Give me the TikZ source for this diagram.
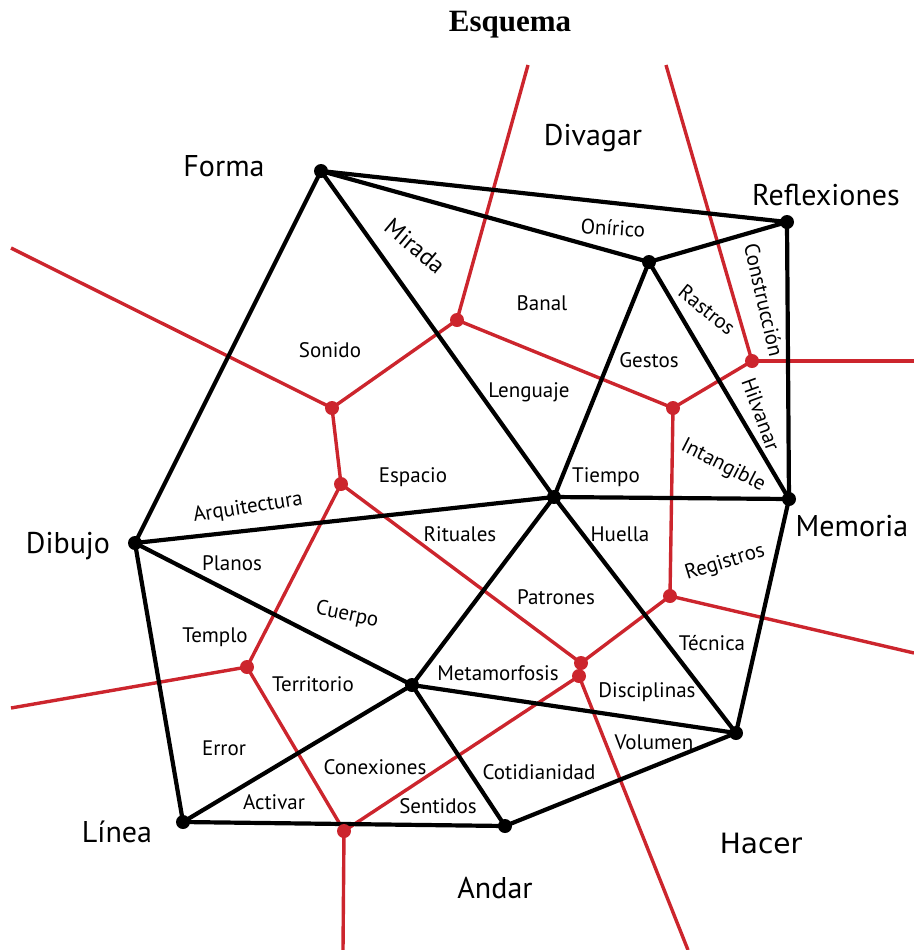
\documentclass[tikz,border=0pt]{standalone}
\usepackage{fontspec}
\setmainfont{PT Sans}
\newfontfamily\titlefont{Liberation Serif}
\newfontfamily\hacerfont{DejaVu Sans}
\usetikzlibrary{backgrounds}
\definecolor{voronoired}{RGB}{204,37,45}

\begin{document}
\begin{tikzpicture}[
    x=0.5pt,y=-0.5pt,
    blackdot/.style={circle,fill=black,inner sep=0pt,minimum size=7pt},
    reddot/.style={circle,fill=voronoired,inner sep=0pt,minimum size=7pt},
    blackline/.style={line width=2.1pt,black},
    redline/.style={line width=1.7pt,voronoired},
    concept/.style={font=\fontsize{10.5}{12}\selectfont,inner sep=0pt},
    region/.style={font=\fontsize{15}{17}\selectfont,inner sep=0pt}
    ]
    \useasboundingbox (0,0) rectangle (914,950);

    \node[font=\titlefont\bfseries\fontsize{15.5}{18}\selectfont] (title) at (510,25) {Esquema};

    % black vertices
    \node[blackdot] (forma) at (321,171) {};
    \node[blackdot] (onirico) at (649,262) {};
    \node[blackdot] (reflex) at (787,222) {};
    \node[blackdot] (tiempo) at (554,497) {};
    \node[blackdot] (memoria) at (789,499) {};
    \node[blackdot] (dibujo) at (135,543) {};
    \node[blackdot] (metamorf) at (412,685) {};
    \node[blackdot] (hacer) at (736,733) {};
    \node[blackdot] (linea) at (183,822) {};
    \node[blackdot] (andar) at (505,826) {};

    % red vertices
    \node[reddot] (r1) at (457,320) {};
    \node[reddot] (r2) at (332,408) {};
    \node[reddot] (r3) at (341,484) {};
    \node[reddot] (r4) at (752,361) {};
    \node[reddot] (r5) at (673,408) {};
    \node[reddot] (r6) at (670,596) {};
    \node[reddot] (r7) at (581,663) {};
    \node[reddot] (r8) at (579,676) {};
    \node[reddot] (r9) at (247,667) {};
    \node[reddot] (r10) at (344,831) {};

    % open ends of the red cells
    \coordinate (e1) at (528,65);
    \coordinate (e2) at (666,65);
    \coordinate (e3) at (11,248);
    \coordinate (e4) at (914,361);
    \coordinate (e5) at (914,653);
    \coordinate (e6) at (11,708);
    \coordinate (e7) at (343,950);
    \coordinate (e8) at (688,950);

    \begin{scope}[on background layer]
        \foreach \i/\j in {r1/e1, r1/r2, r1/r5, r2/e3, r2/r3, r3/r9, r3/r7,
            r4/e2, r4/e4, r4/r5, r5/r6, r6/e5, r6/r7, r7/r8, r8/r10, r8/e8,
            r9/e6, r9/r10, r10/e7}
            \draw[redline] (\i.center) -- (\j.center);
        \foreach \i/\j in {forma/reflex, forma/onirico, forma/tiempo, forma/dibujo,
            onirico/reflex, onirico/tiempo, onirico/memoria, reflex/memoria,
            tiempo/memoria, tiempo/dibujo, tiempo/metamorf, tiempo/hacer,
            memoria/hacer, dibujo/metamorf, dibujo/linea, metamorf/hacer,
            metamorf/linea, metamorf/andar, linea/andar, andar/hacer}
            \draw[blackline] (\i.center) -- (\j.center);
    \end{scope}

    % region names
    \foreach \n/\x/\y/\txt in {% name/x/y/text
        nforma/224/166/Forma,
        ndivagar/593/138/Divagar,
        nreflex/826/195/Reflexiones,
        ndibujo/68/546/Dibujo,
        nmemoria/852/526/Memoria,
        nlinea/117/832/Línea,
        nandar/495/888/Andar}
        \node[region] (\n) at (\x,\y) {\txt};
    \node[region,font=\hacerfont\fontsize{14}{16}\selectfont] (nhacer) at (761,843) {Hacer};

    % words on the edges
    \foreach \n/\x/\y/\r/\txt in {% name/x/y/rotation/text
        lonirico/613/228/-4/Onírico,
        lbanal/542/303/0/Banal,
        lrastros/707/310/-39/Rastros,
        lconstruc/764/300/-77/Construcción,
        lsonido/330/350/0/Sonido,
        lgestos/649/360/0/Gestos,
        lhilvanar/761/414/-70/Hilvanar,
        llenguaje/529/392/0/Lenguaje,
        lespacio/413/477/0/Espacio,
        ltiempo/606/477/0/Tiempo,
        lintang/723/466/-27/Intangible,
        larquit/248/508/9/Arquitectura,
        lrituales/460/534/0/Rituales,
        lhuella/620/534/0/Huella,
        lregistros/725/563/17/Registros,
        lplanos/232/563/0/Planos,
        lpatrones/556/597/0/Patrones,
        lcuerpo/347/615/-12/Cuerpo,
        ltemplo/215/637/0/Templo,
        ltecnica/712/643/0/Técnica,
        lterrit/313/684/0/Territorio,
        lmetamorf/498/673/0/Metamorfosis,
        ldiscip/647/692/0/Disciplinas,
        lerror/224/748/0/Error,
        lvolumen/654/742/0/Volumen,
        lconex/375/767/0/Conexiones,
        lcotid/539/772/0/Cotidianidad,
        lactivar/274/802/0/Activar,
        lsentidos/438/806/0/Sentidos}
        \node[concept,rotate=\r] (\n) at (\x,\y) {\txt};
    \node[concept,font=\fontsize{12}{14}\selectfont,rotate=-40] (lmirada) at (415,246) {Mirada};
\end{tikzpicture}
\end{document}
